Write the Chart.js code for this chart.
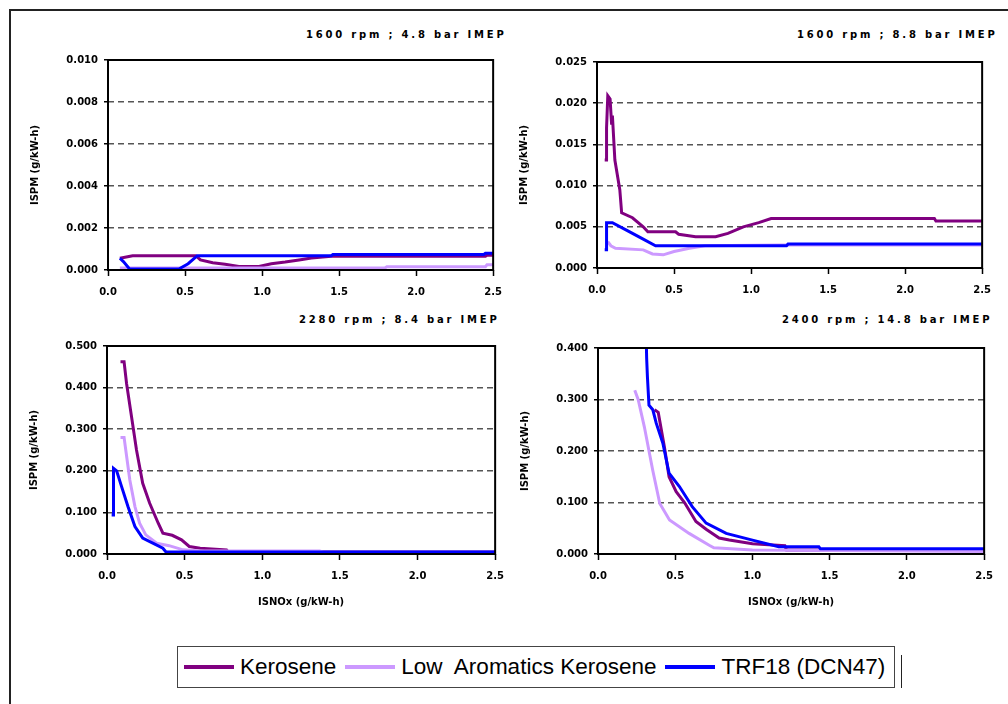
<!DOCTYPE html>
<html>
<head>
<meta charset="utf-8">
<script src="https://cdn.jsdelivr.net/npm/chart.js@4/dist/chart.umd.min.js"></script>
<style>
body{margin:0;background:#fff;width:1008px;height:704px;overflow:hidden;position:relative;font-family:"DejaVu Sans",sans-serif}
.frame{position:absolute;left:9px;top:9px;width:1010px;height:710px;border-top:2px solid #222;border-left:2px solid #222}
canvas{position:absolute}
.ptitle{position:absolute;font:bold 10px "DejaVu Sans";letter-spacing:2.8px;white-space:nowrap;color:#000}
.legend{position:absolute;left:177px;top:646px;width:716px;height:40px;border:1px solid #444;display:flex;align-items:center;font:22.5px "Liberation Sans",Arial,sans-serif;color:#000}
.legend .sw{width:50px;height:4px;margin:0 6px 0 6px}
.legend .lbl{margin-right:3px}
.sep{position:absolute;left:901px;top:655px;width:1px;height:33px;background:#222}
</style>
</head>
<body>
<div class="frame"></div>

<div class="ptitle" style="left:306px;top:29px">1600 rpm ; 4.8 bar IMEP</div>
<div class="ptitle" style="left:797px;top:29px">1600 rpm ; 8.8 bar IMEP</div>
<div class="ptitle" style="left:299px;top:314px">2280 rpm ; 8.4 bar IMEP</div>
<div class="ptitle" style="left:782px;top:314px">2400 rpm ; 14.8 bar IMEP</div>

<canvas id="tl"></canvas>
<canvas id="tr"></canvas>
<canvas id="bl"></canvas>
<canvas id="br"></canvas>

<div class="legend">
  <span class="sw" style="background:#800080"></span><span class="lbl">Kerosene</span>
  <span class="sw" style="background:#cc99ff"></span><span class="lbl">Low&nbsp; Aromatics Kerosene</span>
  <span class="sw" style="background:#0000ff"></span><span class="lbl">TRF18 (DCN47)</span>
</div>
<div class="sep"></div>

<script>
// x ticks shared by all panels
const X_TICKS = [0, 0.5, 1.0, 1.5, 2.0, 2.5];
const TL_Y_TICKS = [0, 0.002, 0.004, 0.006, 0.008, 0.010];
const TR_Y_TICKS = [0, 0.005, 0.010, 0.015, 0.020, 0.025];
const BL_Y_TICKS = [0, 0.1, 0.2, 0.3, 0.4, 0.5];
const BR_Y_TICKS = [0, 0.1, 0.2, 0.3, 0.4];

const SERIES = ['Kerosene', 'Low  Aromatics Kerosene', 'TRF18 (DCN47)'];
const COLORS = ['#800080', '#cc99ff', '#0000ff'];

// 1600 rpm ; 4.8 bar IMEP  -> [ISNOx, ISPM]
const tlKero = [[0.077,0.00056],[0.16,0.00068],[0.57,0.00068],[0.6,0.00048],[0.68,0.00035],[0.76,0.00027],[0.85,0.00017],[0.98,0.00017],[1.06,0.0003],[1.15,0.00038],[1.24,0.00048],[1.32,0.00057],[1.45,0.00065],[2.45,0.00065],[2.46,0.0007],[2.5,0.0007]];
const tlLow  = [[0.077,0.0001],[1.8,0.00011],[1.81,0.00016],[2.45,0.00016],[2.46,0.00025],[2.5,0.00025]];
const tlTrf  = [[0.077,0.00056],[0.1,0.0004],[0.14,0.00005],[0.46,0.00005],[0.52,0.0003],[0.58,0.00068],[1.45,0.00068],[1.46,0.00074],[2.44,0.00074],[2.45,0.0008],[2.5,0.0008]];

// 1600 rpm ; 8.8 bar IMEP
const trKero = [[0.05,0.0131],[0.06,0.0131],[0.062,0.017],[0.07,0.0209],[0.085,0.0205],[0.095,0.0174],[0.1,0.0185],[0.116,0.0131],[0.148,0.0095],[0.16,0.0067],[0.23,0.0061],[0.3,0.005],[0.33,0.0044],[0.51,0.0044],[0.53,0.0041],[0.64,0.0038],[0.77,0.0038],[0.85,0.0042],[0.95,0.005],[1.05,0.0055],[1.13,0.006],[2.19,0.006],[2.2,0.0057],[2.5,0.0057]];
const trLow  = [[0.07,0.0032],[0.09,0.0027],[0.12,0.0024],[0.3,0.0022],[0.36,0.0017],[0.43,0.0016],[0.5,0.002],[0.6,0.0024],[0.7,0.0027],[1.2,0.0028],[2.5,0.0028]];
const trTrf  = [[0.05,0.0022],[0.06,0.0022],[0.062,0.0055],[0.1,0.0055],[0.2,0.0045],[0.3,0.0035],[0.38,0.0027],[1.23,0.0027],[1.24,0.0029],[2.5,0.0029]];

// 2280 rpm ; 8.4 bar IMEP
const blKero = [[0.087,0.462],[0.11,0.462],[0.126,0.41],[0.158,0.33],[0.19,0.25],[0.23,0.17],[0.275,0.122],[0.33,0.074],[0.36,0.05],[0.42,0.045],[0.48,0.034],[0.53,0.018],[0.6,0.014],[0.77,0.01],[0.78,0.005],[2.5,0.005]];
const blLow  = [[0.087,0.28],[0.11,0.28],[0.147,0.178],[0.18,0.114],[0.21,0.074],[0.25,0.046],[0.32,0.026],[0.4,0.02],[0.49,0.01],[0.6,0.007],[1.37,0.007],[1.4,0.004],[2.5,0.004]];
const blTrf  = [[0.03,0.094],[0.04,0.094],[0.042,0.206],[0.062,0.2],[0.094,0.162],[0.135,0.114],[0.18,0.066],[0.23,0.038],[0.295,0.026],[0.36,0.014],[0.38,0.005],[2.5,0.005]];

// 2400 rpm ; 14.8 bar IMEP
const brKero = [[0.366,0.28],[0.39,0.275],[0.43,0.208],[0.46,0.15],[0.506,0.121],[0.56,0.1],[0.634,0.063],[0.7,0.048],[0.784,0.031],[0.85,0.027],[1.0,0.02],[1.21,0.016],[1.22,0.008],[2.5,0.008]];
const brLow  = [[0.238,0.318],[0.26,0.3],[0.3,0.247],[0.354,0.163],[0.4,0.098],[0.463,0.066],[0.59,0.04],[0.72,0.017],[0.75,0.012],[1.0,0.008],[2.5,0.005]];
const brTrf  = [[0.31,0.45],[0.315,0.38],[0.32,0.344],[0.33,0.289],[0.355,0.28],[0.377,0.254],[0.42,0.215],[0.46,0.157],[0.527,0.131],[0.61,0.092],[0.7,0.06],[0.83,0.04],[1.0,0.027],[1.17,0.014],[1.43,0.014],[1.44,0.01],[2.5,0.01]];

const TICK_FONT = {family: 'DejaVu Sans', size: 10, weight: 'bold'};

const plotFrame = {
    id: 'plotFrame',
    afterDatasetsDraw(chart) {
        const a = chart.chartArea, c = chart.ctx;
        c.save();
        c.strokeStyle = '#000';
        c.lineWidth = 2;
        c.strokeRect(a.left, a.top, a.right - a.left, a.bottom - a.top);
        c.restore();
    }
};

const pts = arr => arr.map(p => ({x: p[0], y: p[1]}));

// area = [left, top, right, bottom] of the plot box on the page
function makePanel(id, area, yTicks, decimals, lines, xTitle) {
    const LEFT = 96, TOP = 20, RIGHT = 16, BOTTOM = xTitle ? 58 : 30;
    const canvas = document.getElementById(id);
    canvas.width = area[2] - area[0] + LEFT + RIGHT;
    canvas.height = area[3] - area[1] + TOP + BOTTOM;
    canvas.style.left = (area[0] - LEFT) + 'px';
    canvas.style.top = (area[1] - TOP) + 'px';
    const yMax = yTicks[yTicks.length - 1];

    new Chart(canvas, {
        type: 'scatter',
        data: {
            datasets: lines.map((d, i) => ({
                label: SERIES[i], data: pts(d), borderColor: COLORS[i], backgroundColor: COLORS[i],
                showLine: true, borderWidth: 3, pointRadius: 0, tension: 0, order: 3 - i
            }))
        },
        options: {
            responsive: false, animation: false, devicePixelRatio: 1,
            layout: {padding: {left: 0, top: TOP, right: RIGHT, bottom: 0}},
            plugins: {legend: {display: false}, tooltip: {enabled: false}},
            scales: {
                x: {
                    type: 'linear', min: 0, max: 2.5,
                    afterBuildTicks: s => { s.ticks = X_TICKS.map(v => ({value: v})); },
                    afterFit: s => { s.height = BOTTOM; },
                    ticks: {callback: v => v.toFixed(1), font: TICK_FONT, color: '#000', padding: 10, maxRotation: 0, autoSkip: false},
                    grid: {drawOnChartArea: false, drawTicks: true, tickLength: 6, tickColor: '#000', tickWidth: 1.5},
                    border: {display: false},
                    title: {display: !!xTitle, text: xTitle || '', font: TICK_FONT, color: '#000', padding: 4}
                },
                y: {
                    min: 0, max: yMax,
                    afterBuildTicks: s => { s.ticks = yTicks.map(v => ({value: v})); },
                    afterFit: s => { s.width = LEFT; },
                    ticks: {callback: v => v.toFixed(decimals), font: TICK_FONT, color: '#000', padding: 6},
                    grid: {
                        color: ctx => (ctx.tick.value === 0 || ctx.tick.value === yMax) ? 'rgba(0,0,0,0)' : '#555',
                        lineWidth: 1.5,
                        tickLength: 4, tickColor: '#000', tickBorderDash: [], tickWidth: 1.5
                    },
                    border: {display: false, dash: [6, 4]},
                    title: {display: true, text: 'ISPM (g/kW-h)', font: TICK_FONT, color: '#000', padding: 17}
                }
            }
        },
        plugins: [plotFrame]
    });
}

makePanel('tl', [108, 60, 496, 270], TL_Y_TICKS, 3, [tlKero, tlLow, tlTrf]);
makePanel('tr', [597, 62, 985, 268], TR_Y_TICKS, 3, [trKero, trLow, trTrf]);
makePanel('bl', [107, 346, 498, 554], BL_Y_TICKS, 3, [blKero, blLow, blTrf], 'ISNOx (g/kW-h)');
makePanel('br', [598, 348, 987, 554], BR_Y_TICKS, 3, [brKero, brLow, brTrf], 'ISNOx (g/kW-h)');
</script>
</body>
</html>
